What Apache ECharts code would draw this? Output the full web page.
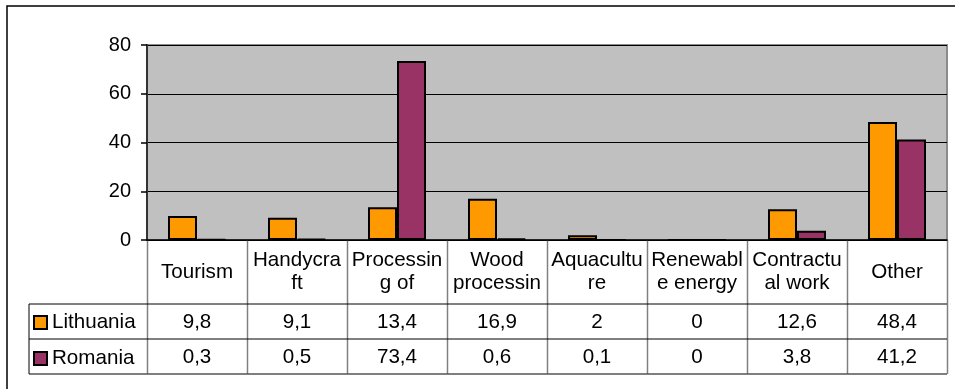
<!DOCTYPE html>
<html>
<head>
<meta charset="utf-8">
<script src="https://cdn.jsdelivr.net/npm/echarts@6/dist/echarts.min.js"></script>
<style>
  html, body { margin: 0; padding: 0; background: #fff; }
  #chart { width: 955px; height: 389px; }
</style>
</head>
<body>
<div id="chart"></div>
<script>
// labels as they appear (cut and wrapped) in the data table
const categories = ['Tourism', 'Handycra\nft', 'Processin\ng of', 'Wood\nprocessin', 'Aquacultu\nre', 'Renewabl\ne energy', 'Contractu\nal work', 'Other']
const lithuania = [9.8, 9.1, 13.4, 16.9, 2, 0, 12.6, 48.4]
const romania = [0.3, 0.5, 73.4, 0.6, 0.1, 0, 3.8, 41.2]
const yTicks = { min: 0, max: 80, interval: 20 }

const FONT = "'Liberation Sans', Arial, sans-serif"
const TABLE_FONT_SIZE = 20.6
const fmt = v => String(v).replace('.', ',')

const chart = echarts.init(document.getElementById('chart'))

function tableAxis(values, margin) {
  return {
    type: 'category',
    data: categories,
    position: 'bottom',
    axisLine: { show: false },
    axisTick: { show: false },
    splitLine: { show: false },
    axisLabel: {
      interval: 0,
      margin: margin,
      fontFamily: FONT,
      fontSize: TABLE_FONT_SIZE,
      color: '#000',
      verticalAlign: 'middle',
      formatter: (v, i) => fmt(values[i])
    }
  }
}

const option = {
  animation: false,
  backgroundColor: '#fff',
  grid: {
    left: 147,
    right: 8,
    top: 45,
    bottom: 149,
    show: true,
    backgroundColor: '#C0C0C0',
    borderColor: '#8c8c8c',
    borderWidth: 2
  },
  legend: {
    orient: 'vertical',
    left: 33,
    top: 312,
    padding: 0,
    itemWidth: 13,
    itemHeight: 13,
    itemGap: 15,
    icon: 'rect',
    itemStyle: { borderColor: '#000', borderWidth: 2 },
    textStyle: { fontFamily: FONT, fontSize: TABLE_FONT_SIZE, lineHeight: 20, color: '#000' },
    data: ['Lithuania', 'Romania']
  },
  xAxis: [
    {
      type: 'category',
      data: categories,
      axisLine: { lineStyle: { color: '#000', width: 1.5 } },
      axisTick: { show: false },
      axisLabel: {
        interval: 0,
        margin: 32,
        fontFamily: FONT,
        fontSize: TABLE_FONT_SIZE,
        lineHeight: 23,
        color: '#000',
        align: 'center',
        verticalAlign: 'middle'
      }
    },
    tableAxis(lithuania, 82),
    tableAxis(romania, 117)
  ],
  yAxis: {
    type: 'value',
    min: yTicks.min,
    max: yTicks.max,
    interval: yTicks.interval,
    axisLine: { show: true, lineStyle: { color: '#333', width: 2 } },
    axisTick: { show: true, length: 6, lineStyle: { color: '#000', width: 1.5 } },
    axisLabel: { margin: 16, fontFamily: FONT, fontSize: 20, color: '#000' },
    splitLine: { lineStyle: { color: '#000', width: 1 } }
  },
  series: [
    {
      name: 'Lithuania',
      type: 'bar',
      data: lithuania,
      barWidth: 29,
      barGap: '0%',
      itemStyle: { color: '#FF9900', borderColor: '#000', borderWidth: 2 }
    },
    {
      name: 'Romania',
      type: 'bar',
      data: romania,
      barWidth: 29,
      itemStyle: { color: '#993366', borderColor: '#000', borderWidth: 2 }
    }
  ]
}

chart.setOption(option)

// data table grid lines, placed from the axes
function drawTable() {
  const c0 = chart.convertToPixel({ xAxisIndex: 0 }, 0)
  const c1 = chart.convertToPixel({ xAxisIndex: 0 }, 1)
  const band = c1 - c0
  const left = c0 - band / 2
  const right = left + band * categories.length
  const y0 = chart.convertToPixel({ yAxisIndex: 0 }, 0)
  const rowTop = y0 + 64
  const rowMid = rowTop + 35
  const rowBot = rowMid + 35
  const tableLeft = 29

  const els = []
  const line = (x1, y1, x2, y2, color, w) => els.push({
    type: 'line',
    shape: { x1, y1, x2, y2 },
    style: { stroke: color, lineWidth: w },
    silent: true
  })

  for (let i = 0; i <= categories.length; i++) {
    const x = Math.round(left + band * i) + 0.5
    line(x, y0, x, rowBot, '#808080', 1.5)
  }
  line(tableLeft, rowTop, right, rowTop, '#000', 1)
  line(tableLeft, rowMid, right, rowMid, '#000', 1)
  line(tableLeft, rowBot, right, rowBot, '#555', 1.5)
  line(tableLeft, rowTop, tableLeft, rowBot, '#000', 1)

  // outer chart frame
  els.push({
    type: 'rect',
    shape: { x: 7, y: 6, width: 960, height: 400 },
    style: { fill: 'none', stroke: '#000', lineWidth: 1.5 },
    silent: true
  })

  chart.setOption({ graphic: els })
}

drawTable()
</script>
</body>
</html>
